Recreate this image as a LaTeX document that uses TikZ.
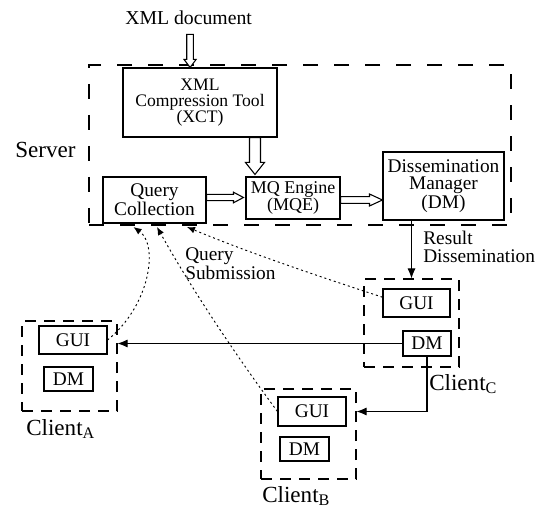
\documentclass[tikz,border=0pt]{standalone}
\usepackage{fontspec}
\setmainfont{Liberation Serif}
\usetikzlibrary{arrows.meta,calc}

\newcommand\fs[2]{\fontsize{#1}{#2}\selectfont}

% hollow block arrow pointing down: tail, tip, shaft half-width, head half-width, head length
\newcommand\blockdown[5]{%
  \draw[hollow] ($(#1)+(-#3,0)$) -- ($(#2)+(-#3,-#5)$) -- ($(#2)+(-#4,-#5)$) -- (#2)
    -- ($(#2)+(#4,-#5)$) -- ($(#2)+(#3,-#5)$) -- ($(#1)+(#3,0)$) -- cycle;}
% hollow block arrow pointing right
\newcommand\blockright[5]{%
  \draw[hollow] ($(#1)+(0,-#3)$) -- ($(#2)+(-#5,-#3)$) -- ($(#2)+(-#5,-#4)$) -- (#2)
    -- ($(#2)+(-#5,#4)$) -- ($(#2)+(-#5,#3)$) -- ($(#1)+(0,#3)$) -- cycle;}

\begin{document}
\begin{tikzpicture}[x=0.75pt,y=-0.75pt,
  box/.style={draw, line width=0.8pt, inner sep=0pt, align=center, font=\fs{14.5}{13}},
  grp/.style={draw, line width=0.8pt, dash pattern=on 8.25pt off 6pt, inner sep=0pt},
  srvbox/.style={draw, line width=0.8pt, dash pattern=on 11.25pt off 12pt, inner sep=0pt},
  lbl/.style={inner sep=0pt, align=left, font=\fs{14.5}{13}},
  biglbl/.style={inner sep=0pt, font=\fs{17.3}{20}},
  hollow/.style={draw, line width=0.8pt, fill=white},
  conn/.style={line width=0.8pt, -{Latex[length=7.5pt,width=6pt]}},
  query/.style={line width=0.7pt, dash pattern=on 1.5pt off 2.2pt, -{Latex[length=6pt,width=5pt]}}
]
\useasboundingbox (0,0) rectangle (538,509);

% server and its components
\node[srvbox, minimum width=422*0.75pt, minimum height=160*0.75pt] (srv) at (300,145) {};
\node[biglbl, anchor=base west] (srvlbl) at (15,158) {Server};
\node[inner sep=0pt, anchor=base west, font=\fs{14.8}{16}] (xmldoc) at (125,25) {XML document};

\node[box, font=\fs{13.2}{12.2}, minimum width=154*0.75pt, minimum height=69*0.75pt] (xct) at (200,102.5)
  {XML\\Compression Tool\\(XCT)};
\node[box, minimum width=103*0.75pt, minimum height=46*0.75pt] (qc) at (154.5,200) {Query\\Collection};
\node[box, font=\fs{13.5}{12.2}, minimum width=94*0.75pt, minimum height=42*0.75pt] (mqe) at (293,198) {MQ Engine\\(MQE)};
\node[box, minimum width=121*0.75pt, minimum height=68*0.75pt] (dm) at (443.5,186) {Dissemination\\Manager\\(DM)};

% clients
\node[grp, minimum width=95*0.75pt, minimum height=90*0.75pt] (cA) at (69.5,366) {};
\node[box, minimum width=68*0.75pt, minimum height=28*0.75pt] (guiA) at (73,340) {GUI};
\node[box, minimum width=49*0.75pt, minimum height=24*0.75pt] (dmA) at (68.5,379) {DM};
\node[biglbl, anchor=base west] (lblA) at (26,435) {Client\textsubscript{A}};

\node[grp, minimum width=95*0.75pt, minimum height=90*0.75pt] (cB) at (308.5,434) {};
\node[box, minimum width=68*0.75pt, minimum height=29*0.75pt] (guiB) at (312,411.5) {GUI};
\node[box, minimum width=49*0.75pt, minimum height=24*0.75pt] (dmB) at (304.5,449) {DM};
\node[biglbl, anchor=base west] (lblB) at (262,502) {Client\textsubscript{B}};

\node[grp, minimum width=95*0.75pt, minimum height=88*0.75pt] (cC) at (411.5,323) {};
\node[box, minimum width=67*0.75pt, minimum height=28*0.75pt] (guiC) at (416.5,303) {GUI};
\node[box, minimum width=48*0.75pt, minimum height=25*0.75pt] (dmC) at (427,343.5) {DM};
\node[biglbl, anchor=base west] (lblC) at (429,390) {Client\textsubscript{C}};

% free labels
\node[lbl, anchor=west] (resl) at (423,247) {Result\\Dissemination};
\node[lbl, anchor=west] (subl) at (185,264) {Query\\Submission};

% block arrows of the server pipeline
\coordinate (xin) at ($(xmldoc.south)+(1.5,9)$);
\coordinate (xintip) at (xin |- xct.north);
\blockdown{xin}{xintip}{3.3}{6}{8}

\coordinate (cmtip) at ($(mqe.north west)+(9.5,-2)$);
\coordinate (cmtail) at (cmtip |- xct.south);
\blockdown{cmtail}{cmtip}{5.5}{9.5}{12}

\coordinate (qmtail) at ($(qc.east)+(0,-2.5)$);
\coordinate (qmtip) at ($(qmtail -| mqe.west)+(-2,0)$);
\blockright{qmtail}{qmtip}{3.2}{5.3}{10}

\coordinate (mdtail) at ($(mqe.east)+(0,2)$);
\coordinate (mdtip) at (mdtail -| dm.west);
\blockright{mdtail}{mdtip}{3.3}{6}{13}

% result dissemination
\draw[conn] (cC.north |- dm.south) -- (cC.north);
\draw[conn] (dmC.west) -- (dmC.west -| cA.east);
\draw[conn] (dmC.south) -- (dmC.south |- guiB.east) -- (guiB.east -| cB.east);

% query submission
\coordinate (qA) at ($(qc.south)+(-21,3.5)$);
\coordinate (qB) at ($(qc.south)+(2.5,3.5)$);
\coordinate (qC) at ($(qc.south)+(32.5,3.5)$);
\coordinate (sC) at ($(guiC.north west)!0.3!(guiC.south west)$);
\draw[query] (guiA.east) .. controls ($(guiA.east)+(43,-35)$) and ($(qA)+(25,18)$) .. (qA);
\draw[query] (guiB.west) .. controls (232,350) and (190,286) .. (qB);
\draw[query] (sC) .. controls (318,276) and (252,254) .. (qC);
\end{tikzpicture}
\end{document}
